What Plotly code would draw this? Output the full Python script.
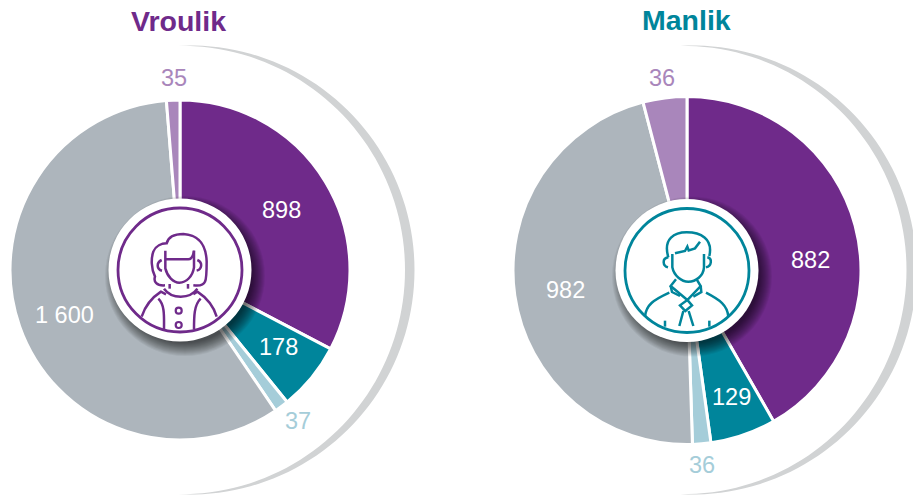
import re
import math
import plotly.graph_objects as go

W, H = 913, 495

# --- data ---
categories = ["Pers", "Blougroen", "Ligblou", "Grys", "Ligpers"]
female_values = [898, 178, 37, 1600, 35]
male_values = [882, 129, 36, 982, 86]      # last slice is drawn larger than its printed label
female_labels = ["898", "178", "37", "1 600", "35"]
male_labels = ["882", "129", "36", "982", "36"]
titles = ["Vroulik", "Manlik"]

# --- styles ---
PURPLE, TEAL, LBLUE, GREY, LPURPLE = "#6F2A8A", "#00859B", "#A5CDD9", "#ADB5BC", "#A986BB"
ARC = "#D1D3D4"
colors = [PURPLE, TEAL, LBLUE, GREY, LPURPLE]
FONT = "Liberation Sans, Arial, sans-serif"


def fx(x):
    return x / W


def fy(y):
    return 1 - y / H


def domain(cx, cy, r):
    return dict(x=[fx(cx - r), fx(cx + r)], y=[fy(cy + r), fy(cy - r)])


def pie(values, cx, cy, r, names):
    return go.Pie(
        labels=names, values=values, sort=False, direction="clockwise", rotation=0,
        marker=dict(colors=colors, line=dict(color="white", width=3)),
        textinfo="none", hoverinfo="skip", showlegend=False, domain=domain(cx, cy, r),
    )


def circle(cx, cy, r, **kw):
    return dict(type="circle", xref="paper", yref="paper",
                x0=fx(cx - r), x1=fx(cx + r), y0=fy(cy + r), y1=fy(cy - r), **kw)


def crescent(cx, cy, R, t, tip=93.0):
    out, inn = [], []
    n = 90
    for i in range(n + 1):
        a = -tip + 2 * tip * i / n
        rad = math.radians(a)
        thick = t * math.cos(math.radians(a * 90 / tip))
        out.append((cx + R * math.cos(rad), cy + R * math.sin(rad)))
        ri = R - thick
        inn.append((cx + ri * math.cos(rad), cy + ri * math.sin(rad)))
    pts = out + inn[::-1]
    d = "M" + " L".join(f"{fx(x):.5f},{fy(y):.5f}" for x, y in pts) + " Z"
    return dict(type="path", xref="paper", yref="paper", path=d, fillcolor=ARC,
                line=dict(width=0), layer="below")


def icon_path(d, ox, oy, color, width=2.5):
    def sub(m):
        x, y = float(m.group(1)), float(m.group(2))
        return f"{fx(ox + x / 3):.5f},{fy(oy + y / 3):.5f}"
    p = re.sub(r"(-?[\d.]+),(-?[\d.]+)", sub, d)
    return dict(type="path", xref="paper", yref="paper", path=p,
                line=dict(color=color, width=width), layer="above")


female_icon = [
    "M225,316 C200,318 190,305 195,290 C183,265 183,235 190,215 C197,197 215,190 230,190 C235,170 255,162 280,162 C325,165 348,190 350,245 C350,275 350,295 345,305 C340,318 325,318 310,316",
    "M226,212 L226,265 C232,290 250,308 268,308 C290,308 308,288 312,262 L312,212",
    "M226,238 L295,238 C305,238 310,225 312,212",
    "M215,240 C198,248 200,268 216,272",
    "M322,240 C340,248 335,268 320,272",
    "M239,312 L239,326",
    "M294,312 L294,326",
    "M222,326 C245,358 300,358 322,326",
    "M155,410 C168,370 190,350 213,335 L228,343",
    "M380,410 C368,370 345,350 322,335 L310,343",
    "M205,356 C225,375 222,410 222,448",
    "M332,356 C312,375 312,410 312,448",
]
male_icon = [
    "M205,232 C188,175 225,157 260,157 C300,157 340,175 328,228",
    "M225,220 L255,213 L262,200 L266,211 L285,205 L300,185",
    "M217,222 L217,262 C222,288 245,305 265,305 C288,305 310,288 312,262 L312,222",
    "M205,232 C185,235 188,258 204,262",
    "M322,232 C338,236 335,258 318,262",
    "M228,298 L212,318 L262,360 L302,318 L290,298",
    "M212,318 L216,336 L240,348",
    "M302,318 L304,336 L280,350",
    "M135,410 C138,375 160,360 208,338",
    "M385,410 C382,375 360,360 318,338",
    "M262,360 L240,376 L256,393 L276,376 Z",
    "M250,393 L238,438",
    "M266,393 L280,438",
    "M195,422 L195,440",
    "M328,422 L328,440",
]


def badge(cx, cy, color):
    s = []
    for i in range(14):
        s.append(circle(cx + 5, cy + 6, 80 - i, fillcolor="rgba(0,0,0,0.055)",
                        line=dict(width=0), layer="above"))
    s.append(circle(cx, cy, 71.5, fillcolor="white", line=dict(width=0), layer="above"))
    s.append(circle(cx, cy, 62, fillcolor="rgba(0,0,0,0)", line=dict(color=color, width=2.8), layer="above"))
    return s


def label(txt, x, y, color, size=23.5):
    return dict(text=txt, x=fx(x), y=fy(y), xref="paper", yref="paper", showarrow=False,
                xanchor="center", yanchor="middle", font=dict(family=FONT, size=size, color=color))


fig = go.Figure()
LC, RC = (180, 270, 170), (687, 270.5, 174)
fig.add_trace(pie(female_values, *LC, categories))
fig.add_trace(pie(male_values, *RC, categories))

shapes = [crescent(190, 270, 224.5, 9.5), crescent(692, 270, 224.5, 10)]
shapes += badge(180, 270, PURPLE)
shapes += [icon_path(d, 90, 180, PURPLE) for d in female_icon]
for by in (310.7, 325):
    shapes.append(circle(178.7, by, 3, fillcolor="rgba(0,0,0,0)", line=dict(color=PURPLE, width=2.2), layer="above"))
shapes += badge(687, 270.5, TEAL)
shapes += [icon_path(d, 600, 180, TEAL) for d in male_icon]

lpos = [(281.5, 210), (278.5, 347), (297.5, 421), (64.5, 315), (174, 78)]
rpos = [(810.5, 260), (731.5, 397), (701.5, 465), (565.5, 290), (662, 78)]
lcol = ["white", "white", LBLUE, "white", LPURPLE]
anns = []
for t, p, c in zip(female_labels, lpos, lcol):
    anns.append(label(t, p[0], p[1], c))
for t, p, c in zip(male_labels, rpos, lcol):
    anns.append(label(t, p[0], p[1], c))
anns.append(dict(text=f"<b>{titles[0]}</b>", x=fx(178), y=fy(21), xref="paper", yref="paper", showarrow=False,
                 xanchor="center", yanchor="middle", font=dict(family=FONT, size=28.5, color=PURPLE)))
anns.append(dict(text=f"<b>{titles[1]}</b>", x=fx(686), y=fy(20), xref="paper", yref="paper", showarrow=False,
                 xanchor="center", yanchor="middle", font=dict(family=FONT, size=28.5, color=TEAL)))

fig.update_layout(width=W, height=H, margin=dict(l=0, r=0, t=0, b=0), paper_bgcolor="white",
                  plot_bgcolor="white", shapes=shapes, annotations=anns, showlegend=False)
fig.write_html("out.html", post_script="document.body.style.margin='0';", config={"displayModeBar": False})
